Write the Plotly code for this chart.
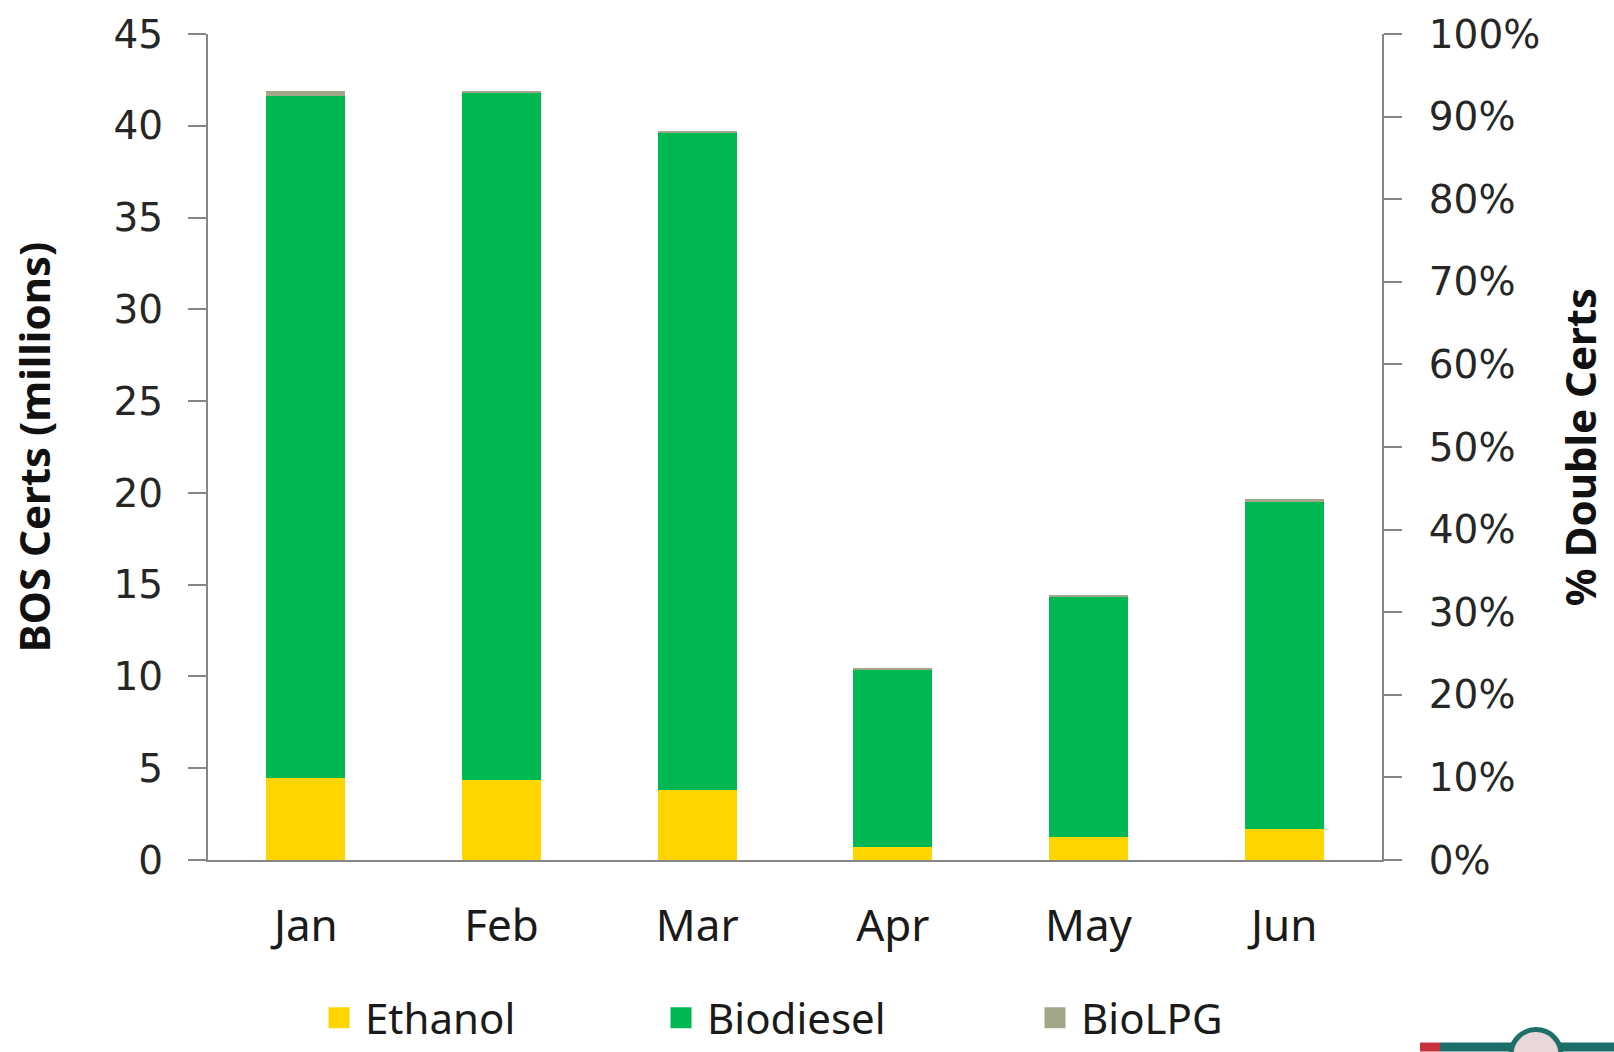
import plotly.graph_objects as go

# Monthly BOS certificates by fuel type (millions)
months = ["Jan", "Feb", "Mar", "Apr", "May", "Jun"]
ethanol = [4.47, 4.36, 3.80, 0.73, 1.25, 1.67]
biodiesel = [37.17, 37.45, 35.78, 9.67, 13.10, 17.88]
biolpg = [0.25, 0.05, 0.12, 0.07, 0.08, 0.10]

left_ticks = [0, 5, 10, 15, 20, 25, 30, 35, 40, 45]
right_ticks = [0, 0.1, 0.2, 0.3, 0.4, 0.5, 0.6, 0.7, 0.8, 0.9, 1.0]

W, H = 1614, 1052
M = dict(l=208, r=232, t=32, b=192)

AXIS_GREY = "#868686"
TICK_FONT = dict(family="DejaVu Sans", size=39, color="#262626")
TEXT_FONT = "Noto Sans"

series = [
    ("Ethanol", ethanol, "#FFD500", 313),
    ("Biodiesel", biodiesel, "#00B852", 655),
    ("BioLPG", biolpg, "#A4A68A", 1029),
]

fig = go.Figure()
legend_layout = {}
for i, (name, vals, color, legend_left) in enumerate(series):
    key = "legend" if i == 0 else f"legend{i + 1}"
    fig.add_trace(go.Bar(name=name, x=months, y=vals, showlegend=False,
                         marker=dict(color=color, line=dict(width=0))))
    # legend swatch for the series
    fig.add_trace(go.Scatter(name=name, x=[None], y=[None], mode="markers",
                             legend=key, showlegend=True, hoverinfo="skip",
                             marker=dict(symbol="square", size=16, color=color,
                                         line=dict(color=color, width=5))))
    legend_layout[key] = dict(
        xref="container", yref="container",
        x=legend_left / W, xanchor="left",
        y=0.0, yanchor="bottom",
        orientation="h", itemwidth=42, bgcolor="rgba(0,0,0,0)",
        font=dict(family=TEXT_FONT, size=42, color="#1a1a1a"),
    )

# Secondary percentage scale on the right
fig.add_trace(go.Scatter(x=[None], y=[None], yaxis="y2", showlegend=False,
                         hoverinfo="skip"))


def px_x(x):
    return (x - M["l"]) / (W - M["l"] - M["r"])


def px_y(y):
    return (H - M["b"] - y) / (H - M["t"] - M["b"])


# Corner emblem strip
shapes = [
    dict(type="rect", xref="paper", yref="paper",
         x0=px_x(1420), x1=px_x(1440), y0=px_y(1052), y1=px_y(1043),
         fillcolor="#C8323C", line=dict(width=0)),
    dict(type="rect", xref="paper", yref="paper",
         x0=px_x(1440), x1=px_x(1614), y0=px_y(1052), y1=px_y(1043),
         fillcolor="#1E6E6A", line=dict(width=0)),
    dict(type="circle", xref="paper", yref="paper",
         x0=px_x(1511), x1=px_x(1561), y0=px_y(1080), y1=px_y(1030),
         fillcolor="#E9D8DA", line=dict(color="#1E6E6A", width=5)),
]

fig.update_layout(
    width=W, height=H,
    margin=M,
    paper_bgcolor="white", plot_bgcolor="white",
    barmode="stack", bargap=0.595,
    showlegend=True,
    shapes=shapes,
    xaxis=dict(
        showline=True, linecolor=AXIS_GREY, linewidth=2,
        ticks="", showgrid=False, zeroline=False,
        tickfont=dict(family=TEXT_FONT, size=44, color="#1a1a1a"),
        ticklabelstandoff=26,
    ),
    yaxis=dict(
        range=[0, 45], tickvals=left_ticks,
        showline=True, linecolor=AXIS_GREY, linewidth=2,
        ticks="outside", ticklen=18, tickcolor=AXIS_GREY, tickwidth=2,
        showgrid=False, zeroline=False,
        tickfont=TICK_FONT, ticklabelstandoff=17,
        title=dict(text="<b>BOS Certs (millions)</b>", standoff=50,
                   font=dict(family=TEXT_FONT, size=42, color="#111111")),
    ),
    yaxis2=dict(
        overlaying="y", side="right", range=[0, 1], tickvals=right_ticks,
        tickformat=".0%",
        showline=True, linecolor=AXIS_GREY, linewidth=2,
        ticks="outside", ticklen=18, tickcolor=AXIS_GREY, tickwidth=2,
        showgrid=False, zeroline=False,
        tickfont=TICK_FONT, ticklabelstandoff=19,
        title=dict(text="<b>% Double Certs</b>", standoff=27,
                   font=dict(family=TEXT_FONT, size=42, color="#111111")),
    ),
    **legend_layout,
)

fig.write_html("out.html")
